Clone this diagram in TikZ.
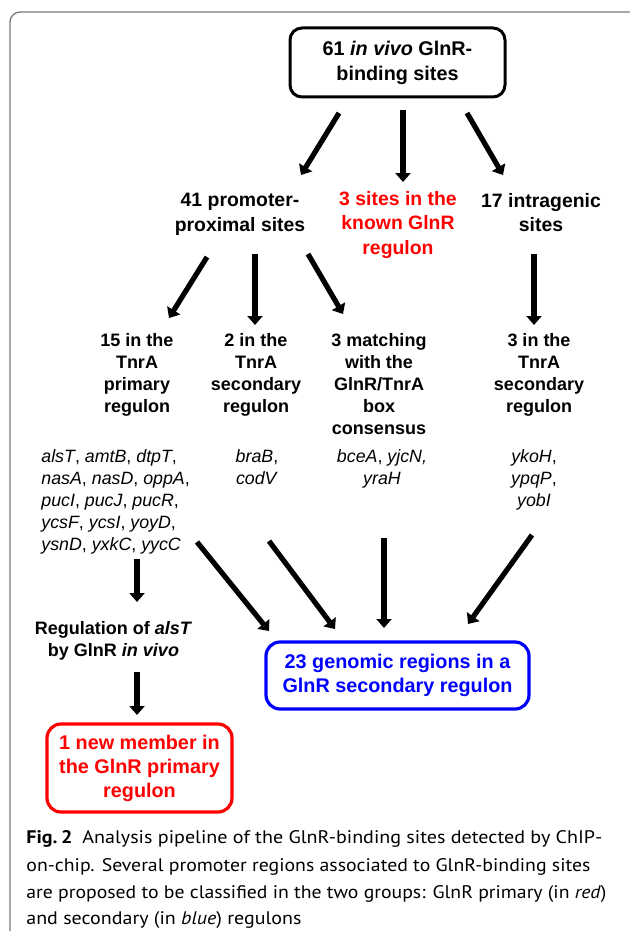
\documentclass[tikz,border=0pt]{standalone}
\usepackage{fontspec}
\usepackage{graphicx}
\setmainfont{Liberation Sans}
\newfontfamily\fA{Liberation Sans}
\newfontfamily\capfont{PT Sans}
\usetikzlibrary{arrows.meta}
\definecolor{fred}{RGB}{255,0,0}
\definecolor{fblue}{RGB}{0,0,255}
\definecolor{framegray}{RGB}{120,120,120}
\begin{document}
\begin{tikzpicture}[x=0.5pt,y=-0.5pt,
  arr/.style={line width=2.6pt,-{Triangle[length=4.5pt,width=7.5pt]}},
  bigbox/.style={draw,rounded corners=6pt,line width=1.5pt,align=center,inner sep=0pt,
    font=\fA\bfseries\fontsize{9.9}{12.5}\selectfont},
  lbl/.style={anchor=north,align=center,inner sep=0pt,font=\fA\bfseries\fontsize{9.7}{12.2}\selectfont},
  lbls/.style={anchor=north,align=center,inner sep=0pt,font=\fA\bfseries\fontsize{9}{11}\selectfont},
  genes/.style={anchor=north,align=center,inner sep=0pt,font=\fA\fontsize{8.9}{11}\selectfont},
  capline/.style={anchor=base west,inner sep=0pt,font=\capfont\fontsize{9.1}{11}\selectfont}]
\useasboundingbox (0,0) rectangle (630,931);
% frame
\draw[framegray,line width=0.65pt,rounded corners=5pt] (634,12) -- (10,12) -- (10,940) -- (30,940);

% top box
\node[bigbox,minimum width=107.5pt,minimum height=34.5pt] (top) at (397.5,62.5)
  {61 \textit{in vivo} GlnR-\\binding sites};

% row 1
\node[lbl] (prom) at (240,193) {41 promoter-\\proximal sites};
\node[lbl,text=fred] (known) at (398,191) {3 sites in the\\known GlnR\\regulon};
\node[lbl] (intra) at (541,193) {17 intragenic\\sites};

% row 3
\node[lbls] (prim) at (137,333) {15 in the\\TnrA\\primary\\regulon};
\node[lbls] (sec) at (256,333) {2 in the\\TnrA\\secondary\\regulon};
\node[lbls] (match) at (379,333) {3 matching\\with the\\GlnR/TnrA\\box\\consensus};
\node[lbls] (isec) at (539,333) {3 in the\\TnrA\\secondary\\regulon};

% genes
\node[genes,anchor=north west,align=left] (gprim) at (41,449)
  {\textit{alsT}, \textit{amtB}, \textit{dtpT},\\
   \textit{nasA}, \textit{nasD}, \textit{oppA},\\
   \textit{pucI}, \textit{pucJ}, \textit{pucR},\\
   \textit{ycsF}, \textit{ycsI}, \textit{yoyD},\\
   \textit{ysnD}, \textit{yxkC}, \textit{yycC}};
\node[genes] (gsec) at (257,449) {\textit{braB},\\\textit{codV}};
\node[genes] (gmatch) at (382,449) {\textit{bceA}, \textit{yjcN,}\\\textit{yraH}};
\node[genes] (gisec) at (534,449) {\textit{ykoH},\\\textit{ypqP},\\\textit{yobI}};

% regulation
\node[lbls] (reg) at (113.5,621) {Regulation of \textit{alsT}\\by GlnR \textit{in vivo}};

% result boxes
\node[bigbox,draw=fblue,text=fblue,rounded corners=7pt,line width=1.6pt,
  font=\fA\bfseries\fontsize{9.9}{12}\selectfont,
  minimum width=131.5pt,minimum height=33.5pt] (blue) at (397.5,675.5)
  {23 genomic regions in a\\GlnR secondary regulon};
\node[bigbox,draw=fred,text=fred,rounded corners=7pt,line width=1.6pt,
  font=\fA\bfseries\fontsize{9.9}{12}\selectfont,
  minimum width=92.5pt,minimum height=44pt] (red) at (139.5,768)
  {1 new member in\\the GlnR primary\\regulon};

% arrow end points
\coordinate (a1s) at (339,113); \coordinate (a1e) at (301,175);
\coordinate (a2s) at (403,110); \coordinate (a2e) at (403,182);
\coordinate (a3s) at (467,113); \coordinate (a3e) at (503,175);
\coordinate (b1s) at (207,257); \coordinate (b1e) at (169,318);
\coordinate (b2s) at (255,254); \coordinate (b2e) at (255,325);
\coordinate (b3s) at (308,254); \coordinate (b3e) at (343,314);
\coordinate (b4s) at (534,254); \coordinate (b4e) at (534,325);
\coordinate (c1s) at (137,559); \coordinate (c1e) at (137,602);
\coordinate (c2s) at (197,542); \coordinate (c2e) at (269,631);
\coordinate (c3s) at (269,541); \coordinate (c3e) at (335,629);
\coordinate (c4s) at (384,538); \coordinate (c4e) at (384,628);
\coordinate (c5s) at (532,535); \coordinate (c5e) at (468,624);
\coordinate (c6s) at (137,672); \coordinate (c6e) at (137,715);
\foreach \a in {a1,a2,a3,b1,b2,b3,b4,c1,c2,c3,c4,c5,c6}
  \draw[arr] (\a s) -- (\a e);

% caption
\node[capline] (cap1) at (26,843) {\resizebox{288pt}{\height}{\textbf{Fig.\,2}\enspace Analysis pipeline of the GlnR-binding sites detected by ChIP-}};
\node[capline] (cap2) at (26,871) {\resizebox{282pt}{\height}{on-chip. Several promoter regions associated to GlnR-binding sites}};
\node[capline] (cap3) at (26,898) {\resizebox{290pt}{\height}{are proposed to be classified in the two groups: GlnR primary (in \textit{red})}};
\node[capline] (cap4) at (26,924) {\resizebox{137.5pt}{\height}{and secondary (in \textit{blue}) regulons}};
\end{tikzpicture}
\end{document}
